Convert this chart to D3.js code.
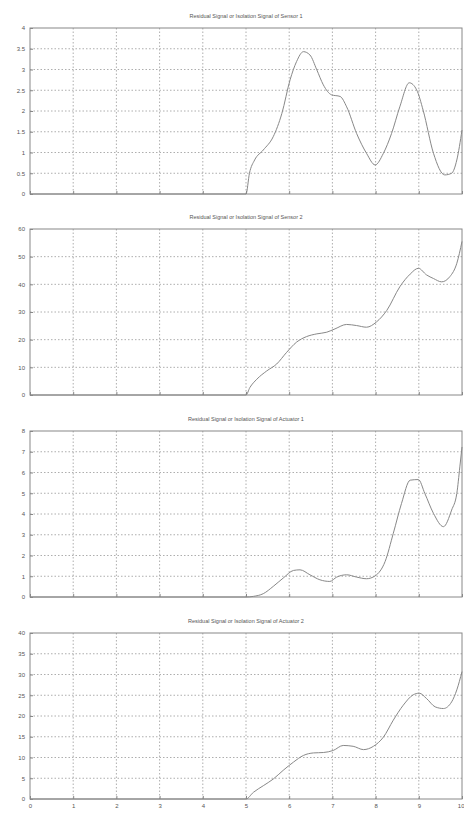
<!DOCTYPE html>
<html>
<head>
<meta charset="utf-8">
<script src="https://cdn.jsdelivr.net/npm/d3@7"></script>
<style>
  body { margin: 0; background: #fff; }
  text { font-family: "Liberation Sans", Arial, sans-serif; fill: #555; }
</style>
</head>
<body>
<div id="my_dataviz"></div>
<script>

var titles = [
  "Residual Signal or Isolation Signal of Sensor 1",
  "Residual Signal or Isolation Signal of Sensor 2",
  "Residual Signal or Isolation Signal of Actuator 1",
  "Residual Signal or Isolation Signal of Actuator 2"
];

var xTicks = [0, 1, 2, 3, 4, 5, 6, 7, 8, 9, 10];

// [time, value]
var sensor1 = [
  [0, 0], [5, 0], [5.08, 0.5], [5.2, 0.82], [5.4, 1.06], [5.63, 1.38], [5.83, 1.94],
  [6.02, 2.75], [6.17, 3.19], [6.33, 3.43], [6.48, 3.35], [6.64, 2.99], [6.79, 2.63],
  [6.98, 2.39], [7.18, 2.35], [7.33, 2.1], [7.56, 1.46], [7.79, 0.98], [7.99, 0.7],
  [8.18, 0.98], [8.37, 1.46], [8.56, 2.1], [8.78, 2.68], [8.95, 2.51], [9.1, 2.02],
  [9.34, 0.98], [9.6, 0.46], [9.76, 0.5], [9.88, 0.82], [10, 1.54]
];

var sensor2 = [
  [0, 0], [5, 0], [5.09, 2.7], [5.25, 5.7], [5.48, 8.7], [5.71, 11.2], [5.94, 15.4],
  [6.17, 19.1], [6.4, 21.1], [6.64, 22.1], [6.87, 22.7], [7.06, 23.9], [7.33, 25.5],
  [7.56, 25.1], [7.79, 24.5], [8.02, 26.4], [8.26, 30.6], [8.56, 39.1], [8.8, 43.7],
  [8.99, 45.8], [9.18, 43.4], [9.34, 42.1], [9.53, 40.9], [9.72, 42.8], [9.88, 47.6],
  [10, 55.5]
];

var actuator1 = [
  [0, 0], [5, 0], [5.17, 0.03], [5.4, 0.16], [5.63, 0.51], [5.86, 0.91], [6.1, 1.28],
  [6.25, 1.31], [6.48, 1.07], [6.71, 0.83], [6.94, 0.75], [7.1, 0.96], [7.33, 1.07],
  [7.56, 0.96], [7.79, 0.88], [7.99, 1.02], [8.22, 1.71], [8.41, 3.07], [8.6, 4.51],
  [8.8, 5.63], [8.99, 5.66], [9.14, 4.99], [9.34, 4.03], [9.57, 3.39], [9.76, 4.19],
  [9.88, 4.99], [9.95, 6.27], [10, 7.23]
];

var actuator2 = [
  [0, 0], [5, 0], [5.17, 1.6], [5.4, 3.2], [5.63, 4.8], [5.86, 6.9], [6.1, 8.9],
  [6.33, 10.5], [6.56, 11.1], [6.79, 11.2], [7.02, 11.7], [7.25, 12.9], [7.48, 12.7],
  [7.72, 11.9], [7.95, 12.7], [8.18, 14.9], [8.41, 19.0], [8.64, 22.6], [8.87, 25.1],
  [9.01, 25.5], [9.18, 24.2], [9.38, 22.2], [9.57, 21.8], [9.76, 23.4], [9.88, 26.3],
  [10, 30.7]
];

var yTicks1 = [0, 0.5, 1, 1.5, 2, 2.5, 3, 3.5, 4];
var yTicks2 = [0, 10, 20, 30, 40, 50, 60];
var yTicks3 = [0, 1, 2, 3, 4, 5, 6, 7, 8];
var yTicks4 = [0, 5, 10, 15, 20, 25, 30, 35, 40];

var panels = [
  { title: titles[0], data: sensor1, ticks: yTicks1, top: 28 },
  { title: titles[1], data: sensor2, ticks: yTicks2, top: 229 },
  { title: titles[2], data: actuator1, ticks: yTicks3, top: 431 },
  { title: titles[3], data: actuator2, ticks: yTicks4, top: 633 }
];

var left = 30, right = 462, h = 166;

var svg = d3.select("#my_dataviz")
  .append("svg")
    .attr("width", 464)
    .attr("height", 816);

var x = d3.scaleLinear().domain([0, 10]).range([left, right]);

panels.forEach(function(p, i) {
  var y = d3.scaleLinear()
    .domain([0, d3.max(p.ticks)])
    .range([p.top + h, p.top]);

  var g = svg.append("g");

  // grid lines
  g.selectAll(".vgrid")
    .data(xTicks.slice(1, -1))
    .enter().append("line")
      .attr("x1", function(d) { return x(d); })
      .attr("x2", function(d) { return x(d); })
      .attr("y1", p.top).attr("y2", p.top + h)
      .attr("stroke", "#999")
      .attr("stroke-width", 0.8)
      .attr("stroke-dasharray", "1.5,2");

  g.selectAll(".hgrid")
    .data(p.ticks.slice(1, -1))
    .enter().append("line")
      .attr("x1", left).attr("x2", right)
      .attr("y1", function(d) { return y(d); })
      .attr("y2", function(d) { return y(d); })
      .attr("stroke", "#999")
      .attr("stroke-width", 0.8)
      .attr("stroke-dasharray", "1.5,2");

  // box
  g.append("rect")
    .attr("x", left).attr("y", p.top)
    .attr("width", right - left).attr("height", h)
    .attr("fill", "none")
    .attr("stroke", "#888")
    .attr("stroke-width", 1);

  // y axis, ticks inside like matlab
  var yAxis = d3.axisLeft(y).tickValues(p.ticks).tickSize(-3).tickPadding(5)
    .tickFormat(d3.format("~g"));
  g.append("g")
    .attr("transform", "translate(" + left + ",0)")
    .call(yAxis)
    .call(function(a) {
      a.select(".domain").remove();
      a.selectAll("line").attr("stroke", "#888");
      a.selectAll("text").style("font-size", "6px").attr("fill", "#555");
    });

  // x axis, labels only on the last panel
  var xAxis = d3.axisBottom(x).tickValues(xTicks).tickSize(-3).tickPadding(5)
    .tickFormat(i == 3 ? d3.format("d") : "");
  g.append("g")
    .attr("transform", "translate(0," + (p.top + h) + ")")
    .call(xAxis)
    .call(function(a) {
      a.select(".domain").remove();
      a.selectAll("line").attr("stroke", "#888");
      a.selectAll("text").style("font-size", "6px").attr("fill", "#555");
      // keep the last label inside the window
      a.selectAll("text").filter(function(d) { return d == 10; })
        .attr("text-anchor", "end").attr("dx", 2);
    });

  // title
  g.append("text")
    .attr("x", (left + right) / 2)
    .attr("y", p.top - 10)
    .attr("text-anchor", "middle")
    .style("font-size", "5.5px")
    .text(p.title);

  // curve
  g.append("path")
    .datum(p.data)
    .attr("d", d3.line()
      .x(function(d) { return x(d[0]); })
      .y(function(d) { return y(d[1]); })
      .curve(d3.curveMonotoneX))
    .attr("fill", "none")
    .attr("stroke", "#888")
    .attr("stroke-width", 1);
});

</script>
</body>
</html>
